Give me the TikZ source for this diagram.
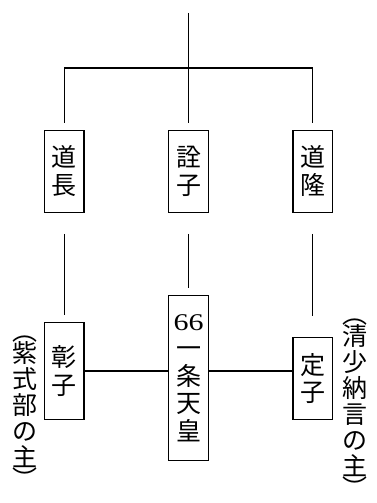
\documentclass[tikz,border=0pt]{standalone}
\usepackage{fontspec}
\usepackage{graphicx}
\newfontfamily\jp{Noto Sans CJK JP}
\newfontfamily\numf{Liberation Serif}
\begin{document}
\begin{tikzpicture}[x=1pt,y=-1pt,
  ln/.style={line width=1.2pt},
  box/.style={draw, line width=1.4pt, minimum width=39.5pt, inner sep=0pt,
    font=\jp\fontsize{25}{27.5}\selectfont, align=center},
  note/.style={inner sep=0pt, font=\jp\fontsize{25}{26}\selectfont, align=center}]
\useasboundingbox (0,0) rectangle (377,503);
% top generation
\node[box, minimum height=82pt] (michinaga) at (64.2,171.2) {道\\長};
\node[box, minimum height=82pt] (senshi) at (188.5,171.2) {詮\\子};
\node[box, minimum height=82pt] (michitaka) at (312.8,171.2) {道\\隆};
% bottom generation
\node[box, minimum height=96.6pt] (shoshi) at (64.2,371) {彰\\子};
\node[box, minimum height=165pt] (ichijo) at (188.5,378.2)
  {\scalebox{1.25}[1]{\numf\fontsize{24}{24}\selectfont 66}\\[0pt]一\\条\\天\\皇};
\node[box, minimum height=82pt] (teishi) at (312.8,378.3) {定\\子};
% notes
\node[note] (murasaki) at (25,412) {︵\\[-4pt]紫\\式\\部\\の\\主\\[-4pt]︶};
\node[note] (seishonagon) at (355,408) {︵\\[-4pt]清\\少\\納\\言\\の\\主\\[-4pt]︶};
% connectors
\coordinate (top) at (188.5,13);
\coordinate (j) at (188.5,68);
\draw[ln] (top) -- (j);
\draw[ln, shorten >=7pt] (j) -| (michinaga.north);
\draw[ln, shorten >=7pt] (j) -- (senshi.north);
\draw[ln, shorten >=7pt] (j) -| (michitaka.north);
\draw[ln, shorten <=21pt, shorten >=7pt] (michinaga.south) -- (shoshi.north);
\draw[ln, shorten <=21pt, shorten >=7pt] (senshi.south) -- (ichijo.north);
\draw[ln, shorten <=21pt, shorten >=20.6pt] (michitaka.south) -- (teishi.north);
\draw[ln] (shoshi.east) -- (ichijo.west |- shoshi.east);
\draw[ln] (ichijo.east |- shoshi.east) -- (teishi.west |- shoshi.east);
\end{tikzpicture}
\end{document}
